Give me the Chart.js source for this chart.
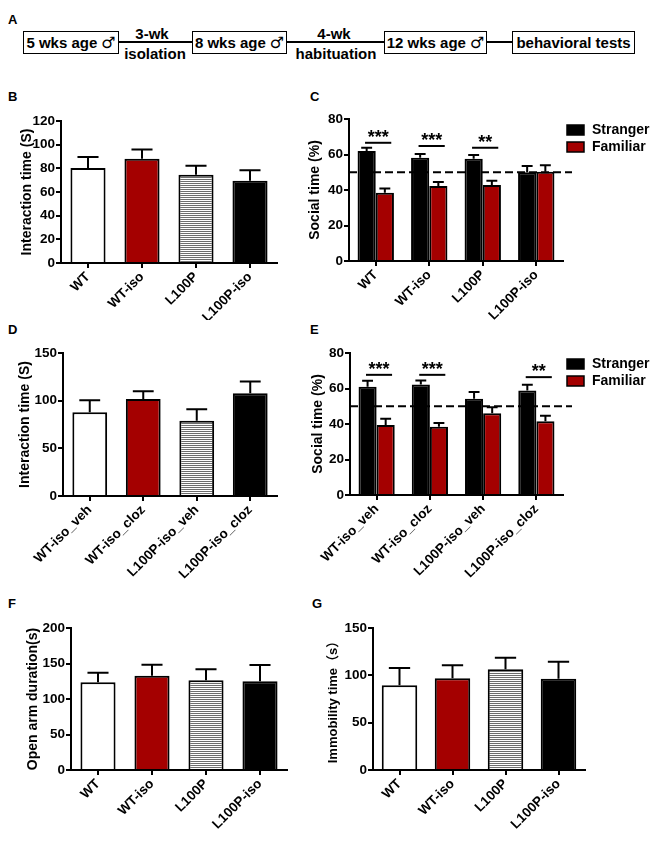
<!DOCTYPE html>
<html>
<head>
<meta charset="utf-8">
<script src="https://cdn.jsdelivr.net/npm/chart.js@4"></script>
<style>
body { margin: 0; background: #fff; }
#page { position: relative; width: 668px; height: 850px; font-family: 'Liberation Sans', Arial, sans-serif; font-weight: bold; color: #000; }
canvas { position: absolute; }
.lbl { position: absolute; font-size: 13px; line-height: 13px; }
.box { position: absolute; top: 31px; height: 23px; box-sizing: border-box; border: 1.5px solid #000; font-size: 15px; display: flex; align-items: center; justify-content: center; white-space: nowrap; }
.line { position: absolute; top: 41px; height: 2px; background: #000; }
.note { position: absolute; font-size: 15px; line-height: 15px; transform: translateX(-50%); white-space: nowrap; }
.male { font-family: 'DejaVu Sans', sans-serif; font-weight: normal; font-size: 16px; margin-left: 4px; }
</style>
</head>
<body>
<div id="page">
  <!-- panel A: timeline -->
  <div class="lbl" style="left:8px;top:13px">A</div>
  <div class="box" style="left:23px;width:96px">5 wks age<span class="male">♂</span></div>
  <div class="line" style="left:119px;width:73px"></div>
  <div class="note" style="left:152px;top:26px">3-wk</div>
  <div class="note" style="left:155px;top:46px">isolation</div>
  <div class="box" style="left:192px;width:95px">8 wks age<span class="male">♂</span></div>
  <div class="line" style="left:287px;width:97px"></div>
  <div class="note" style="left:334px;top:26px">4-wk</div>
  <div class="note" style="left:336px;top:46px">habituation</div>
  <div class="box" style="left:384px;width:103px">12 wks age<span class="male">♂</span></div>
  <div class="line" style="left:487px;width:25px"></div>
  <div class="box" style="left:512px;width:123px">behavioral tests</div>

  <div class="lbl" style="left:8px;top:90px">B</div>
  <div class="lbl" style="left:310px;top:90px">C</div>
  <div class="lbl" style="left:8px;top:323px">D</div>
  <div class="lbl" style="left:310px;top:323px">E</div>
  <div class="lbl" style="left:8px;top:597px">F</div>
  <div class="lbl" style="left:312px;top:597px">G</div>

  <canvas id="chartB"></canvas>
  <canvas id="chartC"></canvas>
  <canvas id="chartD"></canvas>
  <canvas id="chartE"></canvas>
  <canvas id="chartF"></canvas>
  <canvas id="chartG"></canvas>
</div>

<script>
/* ------------------ DATA ------------------ */
const basicGroups = ["WT", "WT-iso", "L100P", "L100P-iso"];
const drugGroups = ["WT-iso_veh", "WT-iso_cloz", "L100P-iso_veh", "L100P-iso_cloz"];

// B: interaction time (S)
const interactionB = [80.3, 88.1, 74.6, 69.5];
const interactionBErr = [9.2, 7.9, 7.6, 8.8];

// C: social time (%)
const strangerC = [62, 58.2, 57.6, 50];
const strangerCErr = [1.8, 2.1, 2.1, 3.5];
const familiarC = [38.5, 42.3, 42.8, 50.3];
const familiarCErr = [2.3, 2.2, 2.4, 3.6];
const sigC = [
    { group: 0, level: 66.6, text: "***" },
    { group: 1, level: 64.8, text: "***" },
    { group: 2, level: 63.8, text: "**" }
];

// D: interaction time (S)
const interactionD = [87.8, 101.7, 79, 107.7];
const interactionDErr = [12.6, 8.3, 12, 12.3];

// E: social time (%)
const strangerE = [61, 62.3, 54.2, 58.9];
const strangerEErr = [3.4, 2.2, 3.8, 3.2];
const familiarE = [39.5, 38.4, 46.1, 41.6];
const familiarEErr = [3.4, 2.2, 3.4, 3];
const sigE = [
    { group: 0, level: 67.7, text: "***" },
    { group: 1, level: 67.7, text: "***" },
    { group: 3, level: 66.4, text: "**" }
];

// F: open arm duration (s)
const openArm = [123.5, 132.8, 126.3, 124.9];
const openArmErr = [13.5, 15.5, 15.5, 23];

// G: immobility time (s)
const immobility = [89.4, 96.8, 106.3, 96.5];
const immobilityErr = [18.3, 13.8, 12.3, 17.9];

/* ------------------ STYLE ------------------ */
const FONT = "'Liberation Sans', 'Noto Sans CJK SC', Arial, sans-serif";
const RED = "#a40000";
Chart.defaults.font.family = FONT;
Chart.defaults.font.weight = "bold";
Chart.defaults.color = "#000";

function hatch(canvas) {
    const src = document.createElement("canvas");
    src.width = 4; src.height = 2;
    const g = src.getContext("2d");
    g.fillStyle = "#fff"; g.fillRect(0, 0, 4, 2);
    g.fillStyle = "#6e6e6e"; g.fillRect(0, 1, 4, 1);
    return canvas.getContext("2d").createPattern(src, "repeat");
}

/* ------------------ ERROR BARS, STARS, LEGEND ------------------ */
const extras = {
    id: "extras",
    afterDatasetsDraw(chart, args, opts) {
        const ctx = chart.ctx;
        const x = chart.scales.x, y = chart.scales.y, area = chart.chartArea;
        ctx.save();
        ctx.strokeStyle = "#000";
        ctx.lineWidth = 2;

        if (opts.refLine != null) {
            const py = y.getPixelForValue(opts.refLine);
            ctx.setLineDash([8, 4]);
            ctx.beginPath(); ctx.moveTo(area.left, py); ctx.lineTo(area.right + 9, py); ctx.stroke();
            ctx.setLineDash([]);
        }

        (opts.errors || []).forEach((errs, di) => {
            const vals = chart.data.datasets[di].data;
            chart.getDatasetMeta(di).data.forEach((bar, i) => {
                const top = y.getPixelForValue(vals[i] + errs[i]);
                const half = bar.width * 0.3;
                ctx.beginPath();
                ctx.moveTo(bar.x, bar.y); ctx.lineTo(bar.x, top);
                ctx.moveTo(bar.x - half, top); ctx.lineTo(bar.x + half, top);
                ctx.stroke();
            });
        });

        const catW = x.width / chart.data.labels.length;
        (opts.sig || []).forEach(s => {
            const cx = x.getPixelForTick(s.group);
            const x1 = cx - 0.2 * catW, x2 = cx + 0.29 * catW;
            const py = y.getPixelForValue(s.level);
            ctx.beginPath(); ctx.moveTo(x1, py); ctx.lineTo(x2, py); ctx.stroke();
            ctx.fillStyle = "#000";
            ctx.font = "bold 18px " + FONT;
            ctx.textAlign = "center";
            ctx.textBaseline = "alphabetic";
            ctx.fillText(s.text, (x1 + x2) / 2, py);
        });

        if (opts.legend) {
            chart.data.datasets.forEach((ds, i) => {
                const bx = area.right + 4, by = area.top + 6 + i * 17;
                ctx.fillStyle = ds.backgroundColor;
                ctx.fillRect(bx, by, 17, 10);
                ctx.lineWidth = 1.5;
                ctx.strokeRect(bx, by, 17, 10);
                ctx.fillStyle = "#000";
                ctx.font = "bold 14px " + FONT;
                ctx.textAlign = "left";
                ctx.textBaseline = "middle";
                ctx.fillText(ds.label, bx + 25, by + 5);
            });
        }
        ctx.restore();
    }
};

/* ------------------ PANEL BUILDER ------------------ */
function panel(id, box, area, cfg) {
    const cv = document.getElementById(id);
    cv.width = box.w; cv.height = box.h;
    cv.style.left = box.x + "px"; cv.style.top = box.y + "px";
    const yW = area.l - box.x;
    const xH = box.y + box.h - area.b;
    const titleSize = cfg.titleSize || 14;
    const titlePad = cfg.titleX - box.x - titleSize * 0.6;
    const datasets = cfg.datasets(cv);

    return new Chart(cv, {
        type: "bar",
        data: { labels: cfg.labels, datasets: datasets },
        options: {
            responsive: false,
            animation: false,
            devicePixelRatio: 1,
            layout: { padding: { left: 0, top: area.t - box.y, right: box.x + box.w - area.r, bottom: 0 } },
            plugins: { legend: { display: false }, tooltip: { enabled: false }, extras: cfg.extra },
            scales: {
                x: {
                    grid: { offset: false, drawOnChartArea: false, color: "#000", lineWidth: 2, tickLength: 5 },
                    border: { color: "#000", width: 2 },
                    ticks: { autoSkip: false, minRotation: 45, maxRotation: 45, padding: 1, font: { size: 13.5 } },
                    afterFit: s => { s.height = xH; }
                },
                y: {
                    min: 0, max: cfg.yMax,
                    ticks: { stepSize: cfg.yStep, padding: 1, font: { size: 13.5 } },
                    grid: { drawOnChartArea: false, color: "#000", lineWidth: 2, tickLength: 5 },
                    border: { color: "#000", width: 2 },
                    title: { display: true, text: cfg.title, font: { size: titleSize }, padding: { top: titlePad, bottom: 0 } },
                    afterFit: s => { s.width = yW; }
                }
            }
        },
        plugins: [extras]
    });
}

function singleBars(values, pct) {
    return cv => [{
        data: values,
        backgroundColor: ["#fff", RED, hatch(cv), "#000"],
        borderColor: "#000",
        borderWidth: 2,
        barPercentage: pct,
        categoryPercentage: 1
    }];
}

function pairedBars(stranger, familiar) {
    return () => [
        { label: "Stranger", data: stranger, backgroundColor: "#000", borderColor: "#000", borderWidth: 2, barPercentage: 1, categoryPercentage: 0.68 },
        { label: "Familiar", data: familiar, backgroundColor: RED, borderColor: "#000", borderWidth: 2, barPercentage: 1, categoryPercentage: 0.68 }
    ];
}

/* ------------------ CHARTS ------------------ */
panel("chartB", { x: 0, y: 80, w: 310, h: 240 }, { l: 61, t: 121, r: 277, b: 263 }, {
    labels: basicGroups, yMax: 120, yStep: 20, title: "Interaction time (S)", titleX: 27,
    datasets: singleBars(interactionB, 0.65),
    extra: { errors: [interactionBErr] }
});

panel("chartC", { x: 300, y: 80, w: 368, h: 240 }, { l: 349, t: 119, r: 563, b: 261 }, {
    labels: basicGroups, yMax: 80, yStep: 20, title: "Social time (%)", titleX: 315,
    datasets: pairedBars(strangerC, familiarC),
    extra: { errors: [strangerCErr, familiarCErr], sig: sigC, refLine: 50, legend: true }
});

panel("chartD", { x: 0, y: 320, w: 310, h: 285 }, { l: 63, t: 353, r: 277, b: 496 }, {
    labels: drugGroups, yMax: 150, yStep: 50, title: "Interaction time (S)", titleX: 25,
    datasets: singleBars(interactionD, 0.65),
    extra: { errors: [interactionDErr] }
});

panel("chartE", { x: 300, y: 320, w: 368, h: 285 }, { l: 350, t: 353, r: 563, b: 495 }, {
    labels: drugGroups, yMax: 80, yStep: 20, title: "Social time (%)", titleX: 318,
    datasets: pairedBars(strangerE, familiarE),
    extra: { errors: [strangerEErr, familiarEErr], sig: sigE, refLine: 50, legend: true }
});

panel("chartF", { x: 0, y: 600, w: 310, h: 250 }, { l: 71, t: 628, r: 287, b: 770 }, {
    labels: basicGroups, yMax: 200, yStep: 50, title: "Open arm duration(s)", titleX: 33,
    datasets: singleBars(openArm, 0.65),
    extra: { errors: [openArmErr] }
});

panel("chartG", { x: 300, y: 600, w: 368, h: 250 }, { l: 373, t: 628, r: 585, b: 770 }, {
    labels: basicGroups, yMax: 150, yStep: 50, title: "Immobility time（s）", titleX: 333, titleSize: 13,
    datasets: singleBars(immobility, 0.67),
    extra: { errors: [immobilityErr] }
});
</script>
</body>
</html>
